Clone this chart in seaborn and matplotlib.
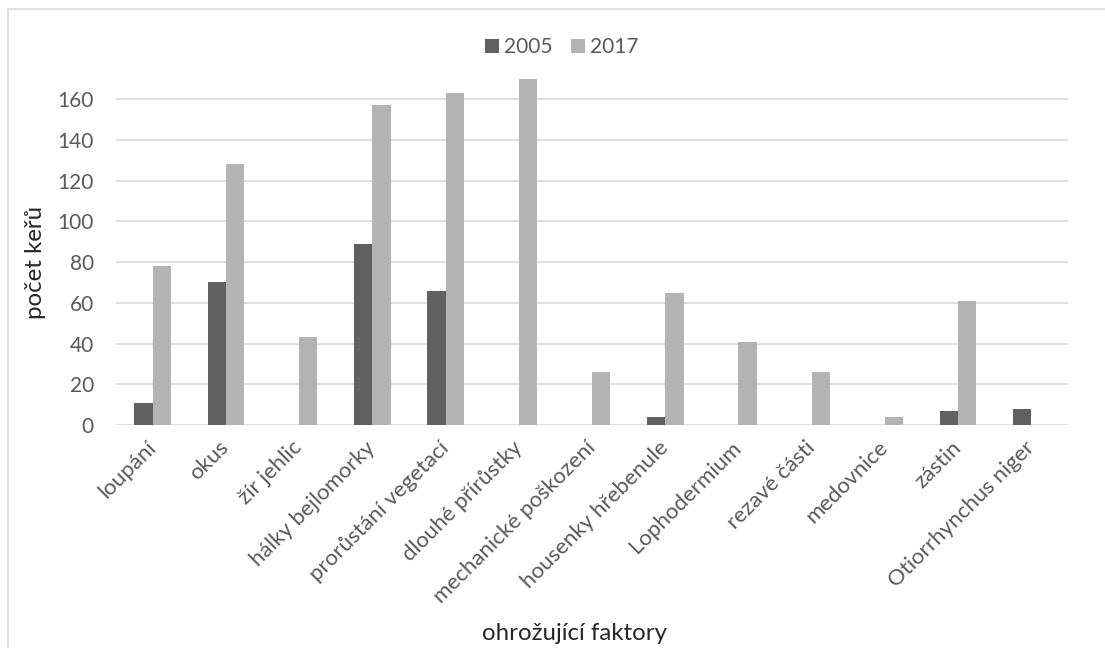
import matplotlib
matplotlib.use("Agg")
import matplotlib.pyplot as plt
from matplotlib.lines import Line2D
import seaborn as sns
import pandas as pd

faktory = [
    "loupání", "okus", "žír jehlic", "hálky bejlomorky", "prorůstání vegetací",
    "dlouhé přírůstky", "mechanické poškození", "housenky hřebenule",
    "Lophodermium", "rezavé části", "medovnice", "zástin", "Otiorrhynchus niger",
]
hodnoty_2005 = [11, 70, 0, 89, 66, 0, 0, 4, 0, 0, 0, 7, 8]
hodnoty_2017 = [78, 128, 43, 157, 163, 170, 26, 65, 41, 26, 4, 61, 0]
roky = ["2005", "2017"]
barvy = ["#606060", "#b3b3b3"]
y_ticks = [0, 20, 40, 60, 80, 100, 120, 140, 160]

df = pd.DataFrame({
    "faktor": faktory * 2,
    "rok": [roky[0]] * len(faktory) + [roky[1]] * len(faktory),
    "pocet": hodnoty_2005 + hodnoty_2017,
})

sns.set_theme(style="white")
plt.rcParams["font.family"] = ["Lato", "DejaVu Sans"]
text_col = "#595959"

W, H = 1105, 648
x0, x1, y0, ytop = 116, 1068, 425, 58.5

fig = plt.figure(figsize=(W / 100, H / 100), dpi=100)
ax = fig.add_axes([x0 / W, 1 - y0 / H, (x1 - x0) / W, (y0 - ytop) / H])

sns.barplot(data=df, x="faktor", y="pocet", hue="rok", palette=barvy,
            order=faktory, hue_order=roky, width=0.5, ax=ax,
            saturation=1, edgecolor="none")

ax.set_ylim(0, 180)
ax.set_yticks(y_ticks)
ax.set_xlim(-0.5, len(faktory) - 0.5)
ax.yaxis.grid(True, color="#d9d9d9", linewidth=1.2)
ax.set_axisbelow(True)
for s in ["top", "right", "left", "bottom"]:
    ax.spines[s].set_visible(False)

ax.tick_params(axis="y", length=0, pad=16, labelsize=15, labelcolor=text_col)
ax.tick_params(axis="x", length=0, pad=14, labelsize=16, labelcolor=text_col)
plt.setp(ax.get_xticklabels(), rotation=45, ha="right", va="center",
         rotation_mode="anchor")

ax.set_xlabel("ohrožující faktory", fontsize=17.3, color="#262626")
ax.xaxis.set_label_coords((575 - x0) / (x1 - x0), (y0 - 633) / (y0 - ytop),
                          transform=ax.transAxes)
ax.xaxis.label.set_va("center")
ax.set_ylabel("počet keřů", fontsize=17.3, color="#262626")
ax.yaxis.set_label_coords((36 - x0) / (x1 - x0), (y0 - 262) / (y0 - ytop))
ax.yaxis.label.set_va("center")

ax.legend(loc="center", bbox_to_anchor=(561.5 / W, 1 - 47 / H),
          bbox_transform=fig.transFigure, ncol=2, frameon=False,
          fontsize=15, labelcolor=text_col, handlelength=0.67,
          handleheight=0.67, handletextpad=0.24, columnspacing=0.9, title=None)

# chart-area border (top and left edges)
fig.add_artist(Line2D([8 / W, 1], [1 - 9 / H, 1 - 9 / H],
                      transform=fig.transFigure, color="#d9d9d9", linewidth=1.2))
fig.add_artist(Line2D([8 / W, 8 / W], [0, 1 - 9 / H],
                      transform=fig.transFigure, color="#d9d9d9", linewidth=1.2))

fig.savefig("out.png", dpi=100, facecolor="white")
